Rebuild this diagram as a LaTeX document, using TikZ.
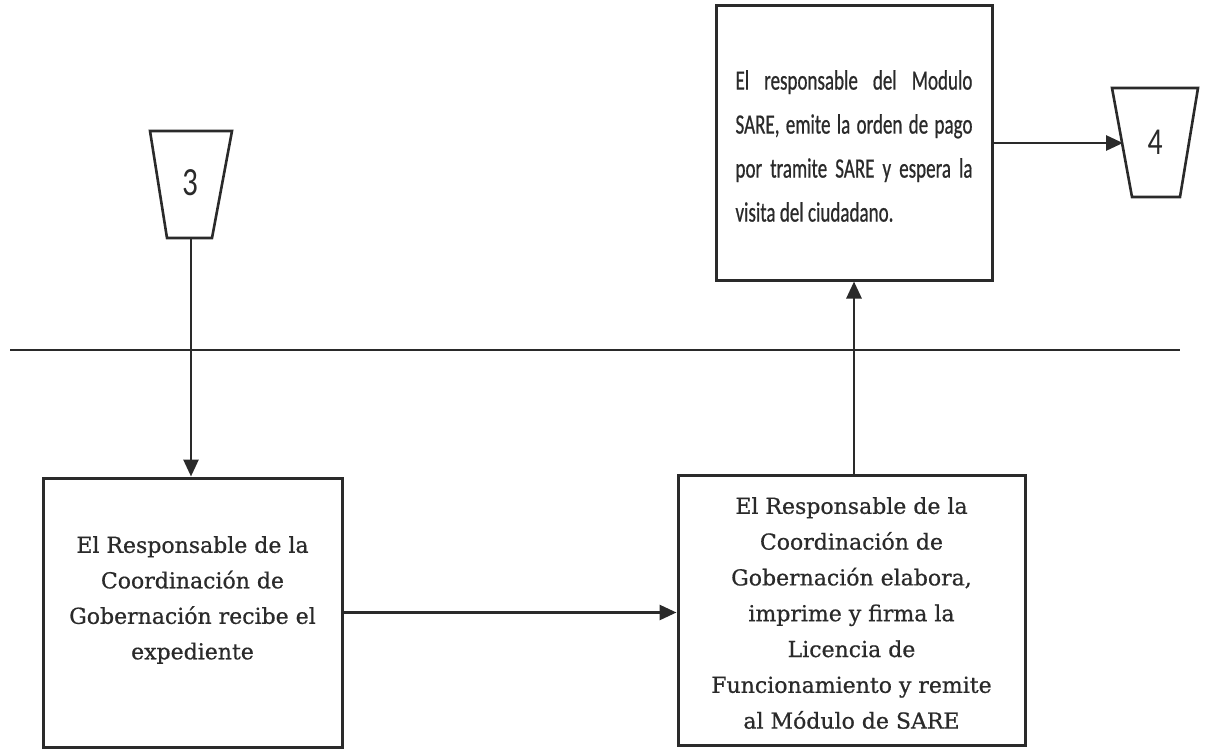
\documentclass[tikz,border=0pt]{standalone}
\usepackage{fontspec}
\setmainfont[FakeBold=0.7]{DejaVu Serif}
\newfontfamily\calib[FakeStretch=0.68,FakeBold=0.6]{Carlito}
\newfontfamily\calibnum[FakeStretch=0.78]{Carlito}
\usetikzlibrary{arrows.meta}
\definecolor{ink}{HTML}{2A2A2A}
\newcommand{\jline}[1]{\makebox[237pt][s]{#1}}
\begin{document}
\begin{tikzpicture}[x=1pt,y=-1pt, color=ink,
  flow/.style={line width=2.8pt, -{Triangle[length=17pt,width=15pt]}},
  procbox/.style={draw, line width=3pt, rectangle, inner sep=0pt},
  conn/.style={draw, line width=2.6pt}]
\useasboundingbox (0,0) rectangle (1207,754);
% boxes
\node[procbox, minimum width=276pt, minimum height=274pt] (top) at (854,143) {};
\node[procbox, minimum width=299pt, minimum height=269pt] (left) at (192.5,612.5) {};
\node[procbox, minimum width=347pt, minimum height=270pt] (right) at (851.5,610) {};
% texts
\node[align=left, font=\calib\fontsize{28}{44}\selectfont, inner sep=0pt] (toptext) at (854,146)
 {\jline{El responsable del Modulo}\\\jline{SARE, emite la orden de pago}\\\jline{por tramite SARE y espera la}\\visita del ciudadano.};
\node[align=center, font=\fontsize{22}{35.5}\selectfont, inner sep=0pt] (lefttext) at (192.5,600)
 {El Responsable de la\\Coordinación de\\Gobernación recibe el\\expediente};
\node[align=center, font=\fontsize{22}{35.8}\selectfont, inner sep=0pt] (righttext) at (851.5,613)
 {El Responsable de la\\Coordinación de\\Gobernación elabora,\\imprime y firma la\\Licencia de\\Funcionamiento y remite\\al Módulo de SARE};
% off-page connectors
\draw[conn] (150,131) -- (232,131) -- (212,238) -- (167,238) -- cycle;
\node (c3) at (190,183) {\calibnum\fontsize{40}{44}\selectfont 3};
\coordinate (c3b) at (191,238);
\draw[conn] (1112,88) -- (1198,88) -- (1180,197) -- (1132,197) -- cycle;
\node (c4) at (1155,142) {\calibnum\fontsize{38}{44}\selectfont 4};
\coordinate (c4l) at (1123,143);
% separator
\coordinate (sepL) at (10,350);
\coordinate (sepR) at (1180,350);
\draw[line width=2pt] (sepL) -- (sepR);
% connectors
\draw[flow] (c3b) -- (left.north -| c3b);
\draw[flow] (left.east) -- (right.west |- left.east);
\draw[flow] (right.north -| top.south) -- (top.south);
\draw[flow] (top.east) -- (c4l);
\end{tikzpicture}
\end{document}
